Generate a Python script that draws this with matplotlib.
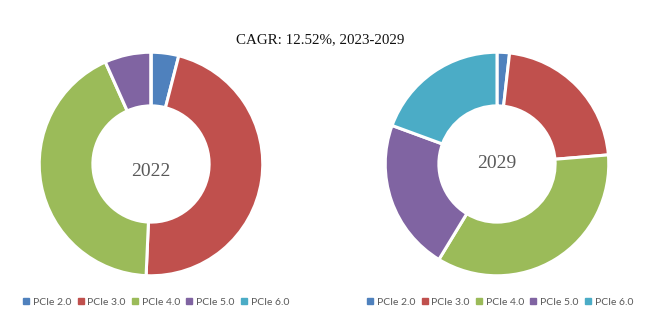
import matplotlib
matplotlib.use("Agg")
import matplotlib.pyplot as plt
from matplotlib.lines import Line2D

# Dados
categories = ["PCIe 2.0", "PCIe 3.0", "PCIe 4.0", "PCIe 5.0", "PCIe 6.0"]
share_2022 = [4.0, 46.7, 42.6, 6.7, 0.0]
share_2029 = [1.8, 21.9, 35.0, 21.9, 19.4]
colors = ["#4F81BD", "#C0504D", "#9BBB59", "#8064A2", "#4BACC6"]
title = "CAGR: 12.52%, 2023-2029"

W, H = 648, 325
fig = plt.figure(figsize=(W / 100, H / 100), dpi=100)


def donut(cx, cy, r, values, label, label_dy=0.0):
    ax = fig.add_axes([(cx - r) / W, (H - cy - r) / H, 2 * r / W, 2 * r / H])
    ax.pie(values, colors=colors, startangle=90, counterclock=False, radius=1,
           wedgeprops=dict(width=0.48, edgecolor="white", linewidth=2.2))
    ax.set_xlim(-1.02, 1.02)
    ax.set_ylim(-1.02, 1.02)
    ax.set_aspect("equal")
    ax.text(0, label_dy, label, ha="center", va="center", fontsize=14,
            family="Liberation Serif", color="#595959")
    return ax


donut(151, 164, 114, share_2022, "2022", -0.07)
donut(497, 164, 114, share_2029, "2029", 0.0)

fig.text(320 / W, 1 - 40 / H, title, ha="center", va="center", fontsize=10.8,
         family="Liberation Serif", color="#111111")

handles = [Line2D([], [], marker="s", linestyle="", markersize=4,
                  markerfacecolor=c, markeredgecolor=c) for c in colors]
for x in (156, 500):
    fig.legend(handles, categories, loc="center", ncol=5,
               bbox_to_anchor=(x / W, 1 - 302 / H), frameon=False,
               prop=dict(family="Lato", size=7.5), labelcolor="#595959",
               handlelength=0.6, handletextpad=0.35, columnspacing=0.6)

fig.savefig("out.png", dpi=100)
